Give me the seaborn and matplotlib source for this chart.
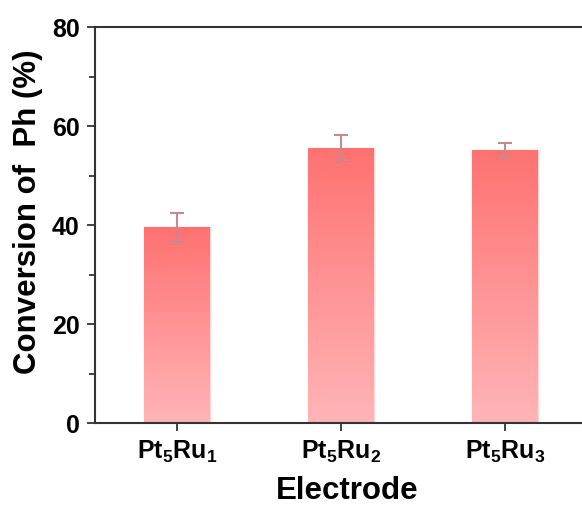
import numpy as np
import pandas as pd
import matplotlib
matplotlib.use("Agg")
import matplotlib.pyplot as plt
import seaborn as sns
from matplotlib.colors import LinearSegmentedColormap
from matplotlib.ticker import MultipleLocator

# data
electrodes = [r"Pt$_5$Ru$_1$", r"Pt$_5$Ru$_2$", r"Pt$_5$Ru$_3$"]
conversion = [39.5, 55.6, 55.2]
conversion_err = [3.0, 2.5, 1.4]

df = pd.DataFrame({"electrode": electrodes, "conversion": conversion})

sns.set_theme(style="ticks")
plt.rcParams["font.family"] = ["Liberation Sans", "DejaVu Sans"]
plt.rcParams["font.weight"] = "bold"
plt.rcParams["text.color"] = "black"
plt.rcParams["axes.labelcolor"] = "black"
plt.rcParams["xtick.color"] = "black"
plt.rcParams["ytick.color"] = "black"
plt.rcParams["mathtext.fontset"] = "custom"
plt.rcParams["mathtext.rm"] = "Liberation Sans:bold"
plt.rcParams["mathtext.bf"] = "Liberation Sans:bold"
plt.rcParams["mathtext.it"] = "Liberation Sans:bold:italic"
plt.rcParams["mathtext.default"] = "bf"

fig = plt.figure(figsize=(5.82, 5.06), dpi=100)
# right edge of the axes lies just outside the picture, as in the reference
ax = fig.add_axes([95 / 582, (506 - 424) / 506, 492 / 582, 396 / 506])

sns.barplot(data=df, x="electrode", y="conversion", errorbar=None,
            width=0.4, color="#ff7373", ax=ax)

# vertical gradient inside every bar
grad_cmap = LinearSegmentedColormap.from_list("bar_grad", ["#ffb5b7", "#ff7171"])
grad = np.linspace(0, 1, 256).reshape(-1, 1)
for p in ax.patches:
    x0, y0 = p.get_x(), p.get_y()
    w, h = p.get_width(), p.get_height()
    p.set_facecolor("none")
    p.set_edgecolor("#ffd6d6")
    p.set_linewidth(1.0)
    im = ax.imshow(grad, cmap=grad_cmap, origin="lower", aspect="auto",
                   extent=[x0, x0 + w, y0, y0 + h], zorder=1.5)
    im.set_clip_path(p)

ax.errorbar(np.arange(len(conversion)), conversion, yerr=conversion_err,
            fmt="none", ecolor="#c58a90", elinewidth=1.5, capsize=4.7,
            capthick=1.5, zorder=3)

ax.set_xlim(-0.5, 2.5)
ax.set_ylim(0, 80)
ax.yaxis.set_major_locator(MultipleLocator(20))
ax.yaxis.set_minor_locator(MultipleLocator(10))

for s in ax.spines.values():
    s.set_visible(True)
    s.set_color("#333333")
    s.set_linewidth(1.5)

ax.tick_params(axis="both", which="major", direction="out", length=6,
               width=1.3, color="#333333", labelsize=18, pad=5,
               labelcolor="black")
ax.tick_params(axis="y", which="minor", direction="out", length=4,
               width=1.3, color="#333333")
ax.tick_params(top=False, right=False)

for lab in ax.get_yticklabels():
    lab.set_fontweight("bold")

ax.set_xlabel("Electrode", fontsize=22.5, fontweight="bold", color="black")
ax.set_ylabel("Conversion of  Ph (%)", fontsize=22.5, fontweight="bold",
              color="black")
ax.yaxis.set_label_coords(-0.106, 0.535)
ax.xaxis.set_label_coords(0.512, -0.131)

fig.savefig("out.png", dpi=100)
